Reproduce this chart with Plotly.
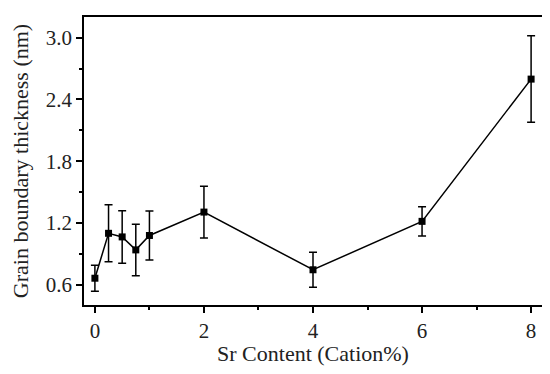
import plotly.graph_objects as go

sr_content = [0, 0.25, 0.5, 0.75, 1, 2, 4, 6, 8]
thickness = [0.664, 1.10, 1.065, 0.939, 1.079, 1.306, 0.746, 1.216, 2.597]
error = [0.127, 0.277, 0.255, 0.250, 0.237, 0.252, 0.170, 0.143, 0.420]

x_ticks = [0, 2, 4, 6, 8]
y_ticks = [0.6, 1.2, 1.8, 2.4, 3.0]
y_tick_text = ["0.6", "1.2", "1.8", "2.4", "3.0"]

font_family = "Liberation Serif, DejaVu Serif, serif"

fig = go.Figure()
fig.add_trace(go.Scatter(
    x=sr_content, y=thickness,
    mode="lines+markers",
    line=dict(color="black", width=1.5),
    marker=dict(symbol="square", size=7, color="black"),
    error_y=dict(type="data", array=error, visible=True,
                 color="black", thickness=1.5, width=4),
    showlegend=False,
))

axis_common = dict(
    showgrid=False, zeroline=False, automargin=False,
    showline=True, linecolor="black", linewidth=1.5, mirror=True,
    ticks="outside", ticklen=6, tickwidth=1.5, tickcolor="black",
    tickfont=dict(family=font_family, size=21, color="#222"),
)

fig.update_xaxes(
    range=[-0.2, 8.2], tickvals=x_ticks,
    minor=dict(ticks="outside", ticklen=3, tickwidth=1.5, tickcolor="black", dtick=1, tick0=0),
    title=dict(text="Sr Content (Cation%)", font=dict(family=font_family, size=22, color="#222"), standoff=4),
    **axis_common,
)
fig.update_yaxes(
    range=[0.404, 3.2], tickvals=y_ticks, ticktext=y_tick_text,
    minor=dict(ticks="outside", ticklen=3, tickwidth=1.5, tickcolor="black", dtick=0.3, tick0=0.6),
    title=dict(text="Grain boundary thickness (nm)", font=dict(family=font_family, size=22, color="#222"), standoff=11),
    **axis_common,
)

# page body has an 8px default margin, so the figure is sized and offset to fit
fig.update_layout(
    width=534, height=358,
    margin=dict(l=76, r=0, t=9, b=61),
    plot_bgcolor="white", paper_bgcolor="white",
)

fig.write_html("out.html")
